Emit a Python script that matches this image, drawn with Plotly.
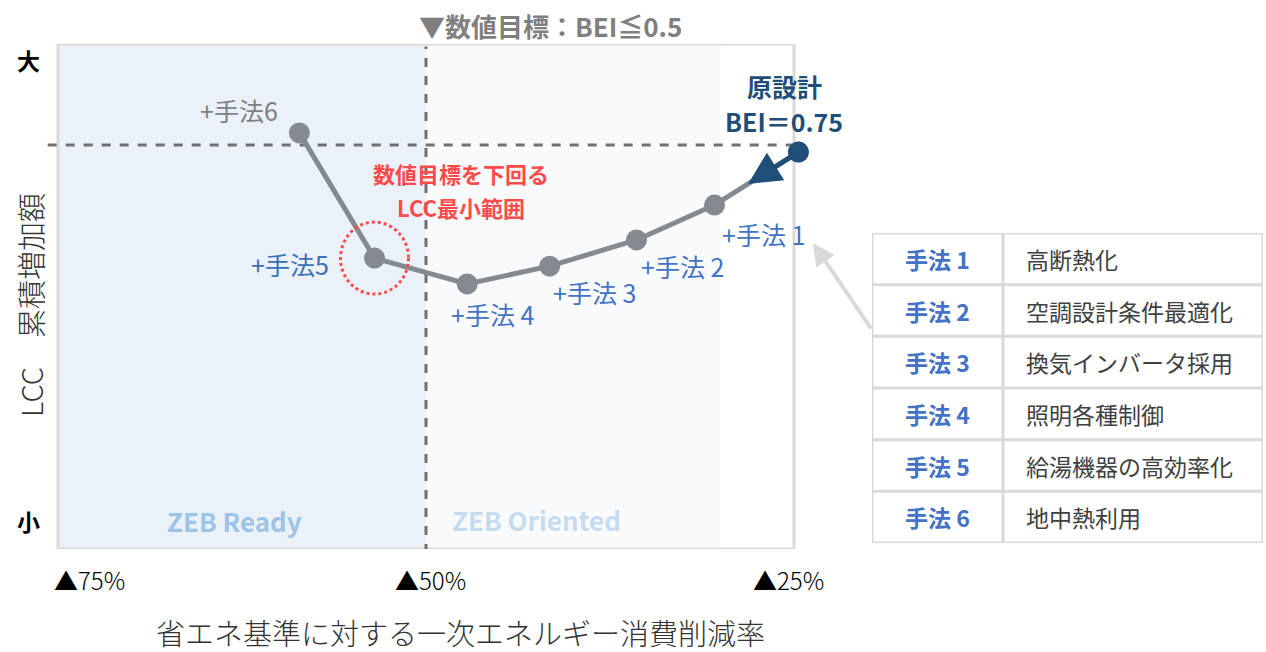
import plotly.graph_objects as go

W, H = 1266, 652
FONT = "Noto Sans CJK JP"

# data: 省エネ削減率(%) と LCC累積増加額 (相対値 0=小 ... 100=大)
point_labels = ["原設計", "+手法 1", "+手法 2", "+手法 3", "+手法 4", "+手法5", "+手法6"]
reduction = [24.7, 30.4, 35.7, 41.6, 47.2, 53.5, 58.6]
lcc = [78.6, 68.1, 61.2, 56.0, 52.5, 57.6, 82.4]

method_ids = ["手法 1", "手法 2", "手法 3", "手法 4", "手法 5", "手法 6"]
method_names = ["高断熱化", "空調設計条件最適化", "換気インバータ採用",
                "照明各種制御", "給湯機器の高効率化", "地中熱利用"]

x_ticks = [75, 50, 25]
x_ticktext = ["▲75%", "▲50%", "▲25%"]
target_reduction = 50
lcc_reference = 80
zone_edges = [75, 50, 30]
zone_names = ["ZEB Ready", "ZEB Oriented"]
best_idx = 5

GREY = "#858a90"
NAVY = "#1f4e79"
BLUE = "#4472c4"
RED = "#ff4b4b"
BORDER = "#d9d9d9"

# plot frame in pixels, axis padded a little so the end markers are not hidden
PX_PER_X = (794 - 58) / 50
PAD_L, PAD_R = 0.8, 0.8


def px(x, y):
    return x / W, 1 - y / H


fig = go.Figure()

fig.add_trace(go.Scatter(
    x=reduction, y=lcc, mode="lines+markers",
    line=dict(color=GREY, width=5),
    marker=dict(size=21, color=GREY),
    cliponaxis=False, hoverinfo="none", showlegend=False,
))
fig.add_trace(go.Scatter(
    x=reduction[:1], y=lcc[:1], mode="markers",
    marker=dict(size=21, color=NAVY),
    cliponaxis=False, hoverinfo="none", showlegend=False,
))

# invisible scatter for the table axes
fig.add_trace(go.Scatter(x=[0, 1], y=[0, len(method_ids)], mode="markers",
                         marker=dict(opacity=0), xaxis="x2", yaxis="y2",
                         hoverinfo="none", showlegend=False))

shapes = []
zone_fill = ["#eaf1f8", "#f9fafc"]
for i in range(len(zone_names)):
    shapes.append(dict(type="rect", xref="x", yref="y", x0=zone_edges[i], x1=zone_edges[i + 1],
                       y0=0, y1=100, fillcolor=zone_fill[i], line_width=0, layer="below"))
shapes.append(dict(type="rect", xref="x", yref="y", x0=x_ticks[0], x1=x_ticks[-1], y0=0, y1=100,
                   line=dict(color=BORDER, width=3), layer="below"))
shapes.append(dict(type="line", xref="x", yref="y", x0=target_reduction, x1=target_reduction,
                   y0=-0.8, y1=99.5, line=dict(color="#707070", width=3, dash="dash"), layer="below"))
shapes.append(dict(type="line", xref="x", yref="y", x0=75.7, x1=x_ticks[-1],
                   y0=lcc_reference, y1=lcc_reference,
                   line=dict(color="#707070", width=3, dash="dash"), layer="below"))
shapes.append(dict(type="circle", xref="x", yref="y", xsizemode="pixel", ysizemode="pixel",
                   xanchor=reduction[best_idx], yanchor=lcc[best_idx],
                   x0=-34, x1=34, y0=-36, y1=36,
                   line=dict(color=RED, width=3, dash="dot")))

# table cells
n = len(method_ids)
shapes.append(dict(type="rect", xref="x2", yref="y2", x0=0, x1=1, y0=0, y1=n,
                   line=dict(color=BORDER, width=3)))
for r in range(1, n):
    shapes.append(dict(type="line", xref="x2", yref="y2", x0=0, x1=1, y0=r, y1=r,
                       line=dict(color=BORDER, width=3)))
shapes.append(dict(type="line", xref="x2", yref="y2", x0=0.335, x1=0.335, y0=0, y1=n,
                   line=dict(color=BORDER, width=3)))

ann = []


def note(x, y, text, size, color, **kw):
    x0, y0 = px(x, y)
    d = dict(x=x0, y=y0, xref="paper", yref="paper", text=text, showarrow=False,
             xanchor="center", yanchor="middle", font=dict(family=FONT, size=size, color=color))
    d.update(kw)
    ann.append(d)


# point labels
offsets = [None, (49, -29), (46, -26), (45, -26), (25, -30), (-84, -6), (-60, 23)]
label_colors = [NAVY, BLUE, BLUE, BLUE, BLUE, "#3a6fb8", "#7f7f7f"]
for i in range(1, len(point_labels)):
    dx, dy = offsets[i]
    ann.append(dict(x=reduction[i], y=lcc[i], xref="x", yref="y", text=point_labels[i],
                    showarrow=False, xshift=dx, yshift=dy, xanchor="center", yanchor="middle",
                    font=dict(family=FONT, size=25, color=label_colors[i])))
for txt, dy in [("<b>原設計</b>", 66), ("<b>BEI＝0.75</b>", 31)]:
    ann.append(dict(x=reduction[0], y=lcc[0], xref="x", yref="y", text=txt, showarrow=False,
                    xshift=-14, yshift=dy, xanchor="center", yanchor="middle",
                    font=dict(family=FONT, size=25, color=NAVY)))

# navy arrow 原設計 -> 手法1
t = 0.6
hx = reduction[0] + (reduction[1] - reduction[0]) * t
hy = lcc[0] + (lcc[1] - lcc[0]) * t
ann.append(dict(x=hx, y=hy, xref="x", yref="y", ax=reduction[0], ay=lcc[0], axref="x", ayref="y",
                text="", showarrow=True, arrowhead=2, arrowsize=1.3, arrowwidth=5,
                arrowcolor=NAVY, standoff=0))

# red note
for txt, yy in [("<b>数値目標を下回る</b>", 74.5), ("<b>LCC最小範囲</b>", 67.7)]:
    ann.append(dict(x=47.6, y=yy, xref="x", yref="y", text=txt, showarrow=False,
                    xanchor="center", yanchor="middle",
                    font=dict(family=FONT, size=22, color=RED)))

# zone names
zone_label_pos = [(63.0, 5.7), (42.5, 5.9)]
zone_label_col = ["#9dc3e6", "#c5dcf0"]
for name, (zx, zy), c in zip(zone_names, zone_label_pos, zone_label_col):
    ann.append(dict(x=zx, y=zy, xref="x", yref="y", text=f"<b>{name}</b>", showarrow=False,
                    xanchor="center", yanchor="middle",
                    font=dict(family=FONT, size=26, color=c)))

# x tick labels
anchors = [("left", -6), ("center", 4), ("right", 32)]
for v, txt, (xa, sh) in zip(x_ticks, x_ticktext, anchors):
    ann.append(dict(x=v, y=1 - 579 / H, xref="x", yref="paper", text=txt, showarrow=False,
                    xanchor=xa, xshift=sh, yanchor="middle",
                    font=dict(family=FONT, size=24, color="black", weight=300)))

note(460, 632, "省エネ基準に対する一次エネルギー消費削減率", 29, "#333333", font=dict(
    family=FONT, size=29, color="#333333", weight=300))
note(30, 305, "LCC　累積増加額", 29, "#333333", textangle=-90, font=dict(
    family=FONT, size=29, color="#333333", weight=300))
note(28, 60, "<b>大</b>", 23, "black")
note(28, 521, "<b>小</b>", 23, "black")
note(550, 25, "<b>▼数値目標：BEI≦0.5</b>", 26, "#7f7f7f")

# table text
for r, (mid, name) in enumerate(zip(method_ids, method_names)):
    ann.append(dict(x=0.1675, y=r + 0.5, xref="x2", yref="y2", text=f"<b>{mid}</b>",
                    showarrow=False, xanchor="center", yanchor="middle",
                    font=dict(family=FONT, size=23, color=BLUE)))
    ann.append(dict(x=0.39, y=r + 0.5, xref="x2", yref="y2", text=name, xanchor="left",
                    yanchor="middle", showarrow=False,
                    font=dict(family=FONT, size=23, color="#404040")))

# pointer from table to chart
hx, hy = px(813, 243)
ann.append(dict(x=hx, y=hy, xref="paper", yref="paper", ax=59, ay=87, text="", showarrow=True,
                arrowhead=2, arrowsize=1.1, arrowwidth=4, arrowcolor=BORDER, standoff=0))

hidden = dict(visible=False, showgrid=False, zeroline=False, fixedrange=True)
fig.update_layout(
    width=W, height=H, autosize=False,
    margin=dict(l=0, r=0, t=0, b=0),
    paper_bgcolor="white", plot_bgcolor="rgba(0,0,0,0)",
    xaxis=dict(range=[x_ticks[0] + PAD_L, x_ticks[-1] - PAD_R],
               domain=[(58 - PAD_L * PX_PER_X) / W, (794 + PAD_R * PX_PER_X) / W], **hidden),
    yaxis=dict(range=[0, 100], domain=[1 - 549 / H, 1 - 44 / H], **hidden),
    xaxis2=dict(range=[0, 1], domain=[872 / W, 1263 / W], anchor="y2", **hidden),
    yaxis2=dict(range=[n, 0], domain=[1 - 543 / H, 1 - 233 / H], anchor="x2", **hidden),
    shapes=shapes, annotations=ann, showlegend=False,
    font=dict(family=FONT),
)

fig.write_html("out.html", config={"displayModeBar": False},
               post_script="document.body.style.margin='0';document.body.style.overflow='hidden';")
